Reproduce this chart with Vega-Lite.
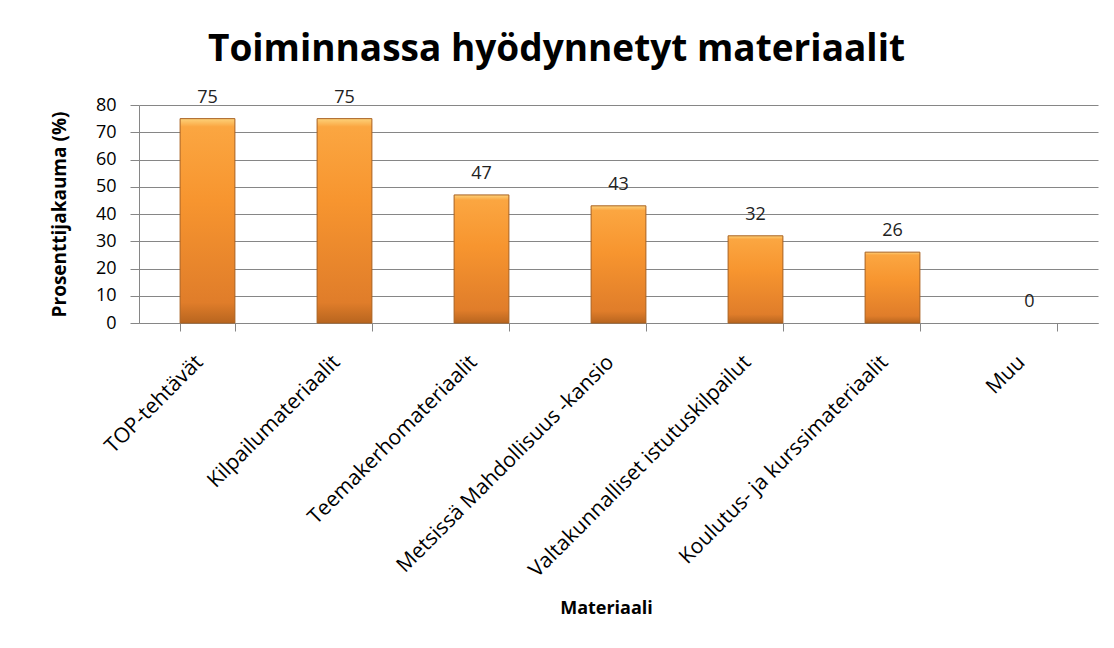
{
  "$schema": "https://vega.github.io/schema/vega-lite/v6.json",
  "width": 959,
  "height": 218,
  "autosize": "none",
  "padding": {"left": 139, "top": 105, "right": 16, "bottom": 325},
  "background": "white",
  "title": {
    "text": "Toiminnassa hyödynnetyt materiaalit",
    "font": "Open Sans",
    "fontSize": 37,
    "fontWeight": "bold",
    "color": "#000000",
    "anchor": "middle",
    "dx": -62,
    "offset": 20
  },
  "data": {
    "values": [
      {"materiaali": "TOP-tehtävät", "arvo": 75},
      {"materiaali": "Kilpailumateriaalit", "arvo": 75},
      {"materiaali": "Teemakerhomateriaalit", "arvo": 47},
      {"materiaali": "Metsissä Mahdollisuus -kansio", "arvo": 43},
      {"materiaali": "Valtakunnalliset istutuskilpailut", "arvo": 32},
      {"materiaali": "Koulutus- ja kurssimateriaalit", "arvo": 26},
      {"materiaali": "Muu", "arvo": 0}
    ]
  },
  "encoding": {
    "x": {
      "field": "materiaali",
      "type": "nominal",
      "sort": null,
      "scale": {"paddingInner": 0.6, "paddingOuter": 0.3},
      "axis": {
        "title": "Materiaali",
        "titleFont": "Open Sans",
        "titleFontSize": 18,
        "titleFontWeight": "bold",
        "titleColor": "#000000",
        "titleX": 467,
        "titleY": 276,
        "labelAngle": -45,
        "labelFont": "Open Sans",
        "labelFontSize": 21,
        "labelColor": "#000000",
        "labelPadding": 20,
        "labelOffset": -16,
        "labelLimit": 0,
        "labelOverlap": false,
        "tickBand": "extent",
        "tickSize": 8,
        "tickColor": "#868686",
        "domainColor": "#868686",
        "grid": false
      }
    },
    "y": {
      "field": "arvo",
      "type": "quantitative",
      "scale": {"domain": [0, 80], "nice": false},
      "axis": {
        "title": "Prosenttijakauma (%)",
        "titleFont": "Open Sans",
        "titleFontSize": 19,
        "titleFontWeight": "bold",
        "titleColor": "#000000",
        "titlePadding": 26,
        "values": [0, 10, 20, 30, 40, 50, 60, 70, 80],
        "labelFont": "Open Sans",
        "labelFontSize": 18,
        "labelColor": "#000000",
        "labelPadding": 14,
        "tickSize": 9,
        "tickColor": "#868686",
        "domainColor": "#868686",
        "gridColor": "#868686",
        "gridOpacity": 1
      }
    }
  },
  "layer": [
    {
      "transform": [{"filter": "datum.arvo > 0"}],
      "mark": {
        "type": "bar",
        "stroke": "#a9601f",
        "strokeWidth": 1,
        "color": {
          "gradient": "linear",
          "x1": 0, "y1": 0, "x2": 0, "y2": 1,
          "stops": [
            {"offset": 0, "color": "#fdd27a"},
            {"offset": 0.04, "color": "#fba641"},
            {"offset": 0.4, "color": "#f7952f"},
            {"offset": 0.9, "color": "#e07d2a"},
            {"offset": 1, "color": "#b8651f"}
          ]
        }
      }
    },
    {
      "mark": {
        "type": "text",
        "baseline": "bottom",
        "dy": -12,
        "font": "Open Sans",
        "fontSize": 18,
        "color": "#222222"
      },
      "encoding": {
        "text": {"field": "arvo", "type": "quantitative"}
      }
    }
  ],
  "config": {
    "view": {"stroke": null}
  }
}
